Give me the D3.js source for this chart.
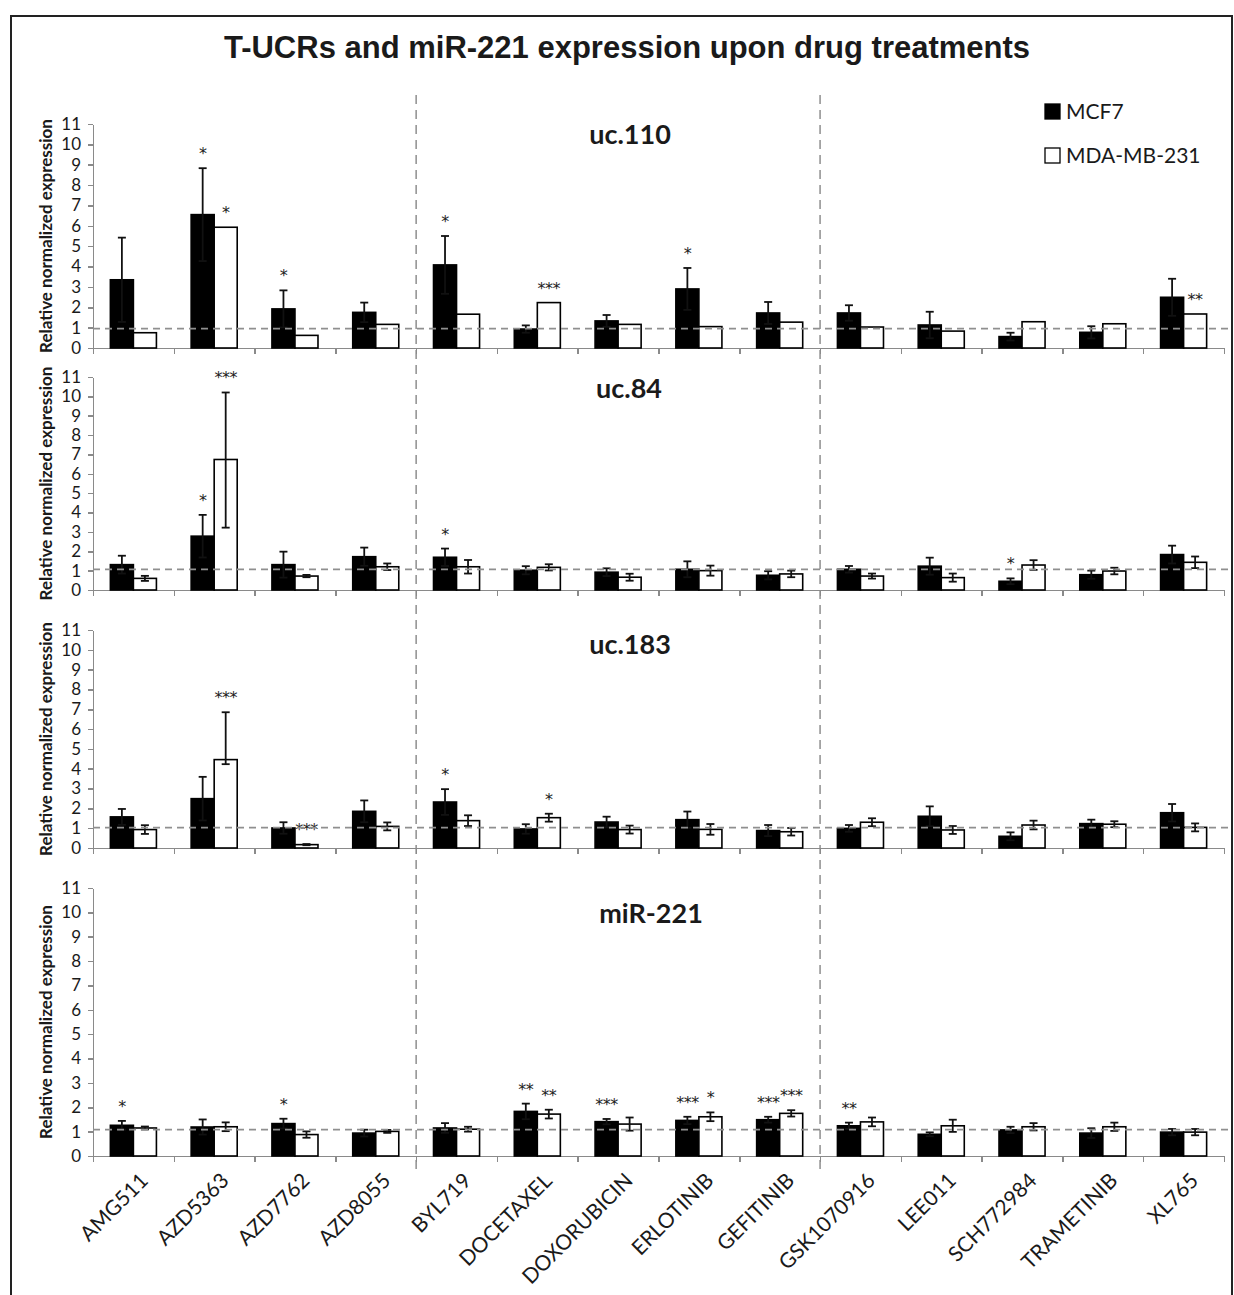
<!DOCTYPE html>
<html>
<head>
<meta charset="utf-8">
<script src="https://cdn.jsdelivr.net/npm/d3@7"></script>
<style>
  body { margin: 0; background: #fff; }
  svg text { font-family: Lato, "Open Sans", sans-serif; fill: #1a1a1a; }
  .axis path, .axis line { stroke: #8a8a8a; stroke-width: 1.5; shape-rendering: crispEdges; }
  .axis text { font-size: 17px; fill: #1a1a1a; }
  .ref-line, .sep-line { stroke: #8f8f8f; stroke-width: 1.8; stroke-dasharray: 7 5; fill: none; }
  .sep-line { stroke-width: 1.5; stroke-dasharray: 9 6; }
  .err line { stroke: #111; stroke-width: 1.8; }
  .sig { font-family: "DejaVu Sans", sans-serif !important; font-size: 16px; text-anchor: middle; letter-spacing: -0.5px; fill: #222 !important; }
</style>
</head>
<body>
<div id="chart"></div>
<script>
// Categories, series, ticks
var categories = ["AMG511", "AZD5363", "AZD7762", "AZD8055", "BYL719", "DOCETAXEL",
  "DOXORUBICIN", "ERLOTINIB", "GEFITINIB", "GSK1070916", "LEE011", "SCH772984",
  "TRAMETINIB", "XL765"];
var seriesNames = ["MCF7", "MDA-MB-231"];
var panelNames = ["uc.110", "uc.84", "uc.183", "miR-221"];
var yTicks = [0, 1, 2, 3, 4, 5, 6, 7, 8, 9, 10, 11];
var refValues = [0.95, 1.07, 1.03, 1.08];

// uc.110 (errors: number = symmetric, [down, up] otherwise)
var uc110MCF7 = [3.35, 6.55, 1.92, 1.75, 4.08, 0.93, 1.33, 2.9, 1.72, 1.72, 1.13, 0.56, 0.77, 2.49];
var uc110MCF7Err = [2.07, 2.28, 0.91, 0.48, 1.42, 0.18, 0.29, 1.03, 0.54, 0.38, 0.65, 0.19, 0.3, 0.91];
var uc110MDA = [0.75, 5.93, 0.62, 1.16, 1.66, 2.23, 1.16, 1.05, 1.27, 1.03, 0.83, 1.29, 1.19, 1.67];
var uc110MDAErr = [0, 0, 0, 0, 0, 0, 0, 0, 0, 0, 0, 0, 0, 0];
var uc110Sig = [["", ""], ["*", "*"], ["*", ""], ["", ""], ["*", ""], ["", "***"], ["", ""],
  ["*", ""], ["", ""], ["", ""], ["", ""], ["", ""], ["", ""], ["", "**"]];

// uc.84
var uc84MCF7 = [1.31, 2.78, 1.31, 1.72, 1.69, 1.02, 0.92, 1.07, 0.76, 1.07, 1.23, 0.45, 0.79, 1.83];
var uc84MCF7Err = [0.46, 1.1, 0.67, 0.47, 0.45, 0.21, 0.2, 0.41, 0.21, 0.17, 0.44, 0.15, 0.21, 0.46];
var uc84MDA = [0.6, 6.74, 0.72, 1.2, 1.2, 1.17, 0.66, 1.0, 0.83, 0.72, 0.64, 1.29, 0.98, 1.43];
var uc84MDAErr = [0.13, [3.52, 3.46], 0.06, 0.17, 0.35, 0.16, 0.18, 0.26, 0.17, 0.13, 0.21, 0.25, 0.17, 0.3];
var uc84Sig = [["", ""], ["*", "***"], ["", ""], ["", ""], ["*", ""], ["", ""], ["", ""],
  ["", ""], ["", ""], ["", ""], ["", ""], ["*", ""], ["", ""], ["", ""]];

// uc.183
var uc183MCF7 = [1.57, 2.49, 1.01, 1.85, 2.32, 0.96, 1.31, 1.43, 0.88, 0.99, 1.6, 0.59, 1.23, 1.78];
var uc183MCF7Err = [0.4, 1.1, 0.29, 0.55, 0.65, 0.24, 0.27, 0.41, 0.28, 0.17, 0.5, 0.2, 0.2, 0.44];
var uc183MDA = [0.93, 4.46, 0.17, 1.09, 1.38, 1.53, 0.93, 0.94, 0.82, 1.3, 0.91, 1.16, 1.2, 1.04];
var uc183MDAErr = [0.22, [0.23, 2.39], 0.03, 0.2, 0.27, 0.2, 0.2, 0.27, 0.19, 0.2, 0.2, 0.22, 0.15, 0.2];
var uc183Sig = [["", ""], ["", "***"], ["", "***"], ["", ""], ["*", ""], ["", "*"], ["", ""],
  ["", ""], ["", ""], ["", ""], ["", ""], ["", ""], ["", ""], ["", ""]];

// miR-221
var mir221MCF7 = [1.26, 1.19, 1.33, 0.94, 1.15, 1.83, 1.41, 1.46, 1.49, 1.24, 0.89, 1.07, 0.94, 0.98];
var mir221MCF7Err = [0.18, 0.31, 0.2, 0.14, 0.2, 0.32, 0.11, 0.15, 0.12, 0.13, 0.08, 0.13, 0.2, 0.13];
var mir221MDA = [1.15, 1.2, 0.88, 1.01, 1.1, 1.72, 1.31, 1.61, 1.75, 1.4, 1.24, 1.2, 1.2, 0.98];
var mir221MDAErr = [0.06, 0.18, 0.13, 0.06, 0.1, 0.18, 0.27, 0.18, 0.13, 0.18, 0.25, 0.15, 0.17, 0.13];
var mir221Sig = [["*", ""], ["", ""], ["*", ""], ["", ""], ["", ""], ["**", "**"], ["***", ""],
  ["***", "*"], ["***", "***"], ["**", ""], ["", ""], ["", ""], ["", ""], ["", ""]];

var panelValues = [
  [uc110MCF7, uc110MDA], [uc84MCF7, uc84MDA], [uc183MCF7, uc183MDA], [mir221MCF7, mir221MDA]
];
var panelErrors = [
  [uc110MCF7Err, uc110MDAErr], [uc84MCF7Err, uc84MDAErr], [uc183MCF7Err, uc183MDAErr], [mir221MCF7Err, mir221MDAErr]
];
var panelSig = [uc110Sig, uc84Sig, uc183Sig, mir221Sig];

// Layout
var width = 1234;
var height = 1295;
var plotLeft = 93;
var plotRight = 1224;
var panelTop = [124, 377, 630, 888];
var panelBottom = [348, 590, 848, 1156];
var panelTitleX = [630, 629, 630, 651];
var panelTitleY = [144, 398, 654, 923];
var fillColors = ["#000", "#fff"];

var render = function() {
  var containerElement = d3.select("#chart");
  containerElement.html("");

  var svg = containerElement.append("svg")
    .attr("width", width)
    .attr("height", height);

  // Frame
  svg.append("rect")
    .attr("x", 11).attr("y", 16)
    .attr("width", 1221).attr("height", 1300)
    .attr("fill", "none").attr("stroke", "#222").attr("stroke-width", 2);

  svg.append("text")
    .attr("x", 627).attr("y", 58)
    .attr("text-anchor", "middle")
    .style("font-family", "'Liberation Sans', Arial, sans-serif")
    .style("font-weight", "bold")
    .style("font-size", "31px")
    .text("T-UCRs and miR-221 expression upon drug treatments");

  var xScale = d3.scaleBand()
    .domain(categories)
    .range([plotLeft, plotRight])
    .paddingInner(0.43)
    .paddingOuter(0.215);

  var xSub = d3.scaleBand()
    .domain([0, 1])
    .range([0, xScale.bandwidth()]);

  var xEdge = d3.scaleLinear()
    .domain([0, categories.length])
    .range([plotLeft, plotRight]);

  // Group separators
  [4, 9].forEach(function(k) {
    svg.append("line")
      .attr("class", "sep-line")
      .attr("x1", xEdge(k)).attr("x2", xEdge(k))
      .attr("y1", 95).attr("y2", 1170);
  });

  panelNames.forEach(function(name, p) {
    var yScale = d3.scaleLinear()
      .domain([0, 11])
      .range([panelBottom[p], panelTop[p]]);

    var g = svg.append("g").attr("class", "panel");

    // y axis
    g.append("g")
      .attr("class", "axis y")
      .attr("transform", "translate(" + plotLeft + ",0)")
      .call(d3.axisLeft(yScale).tickValues(yTicks).tickSize(5).tickSizeOuter(0).tickPadding(7));

    // x axis (category boundaries)
    g.append("g")
      .attr("class", "axis x")
      .attr("transform", "translate(0," + panelBottom[p] + ")")
      .call(d3.axisBottom(xEdge).tickValues(d3.range(categories.length + 1)).tickSize(6).tickSizeOuter(0).tickFormat(""));

    g.append("text")
      .attr("transform", "translate(52," + (panelTop[p] + panelBottom[p]) / 2 + ") rotate(-90)")
      .attr("text-anchor", "middle")
      .style("font-weight", "bold")
      .style("font-size", "17px")
      .text("Relative normalized expression");

    g.append("text")
      .attr("x", panelTitleX[p]).attr("y", panelTitleY[p])
      .attr("text-anchor", "middle")
      .style("font-weight", "bold")
      .style("font-size", "27px")
      .text(name);

    // bars
    panelValues[p].forEach(function(values, s) {
      var errs = panelErrors[p][s];
      var bars = categories.map(function(c, i) {
        var e = errs[i];
        var down = Array.isArray(e) ? e[0] : e;
        var up = Array.isArray(e) ? e[1] : e;
        return { cat: c, value: values[i], down: down, up: up, sig: panelSig[p][i][s] };
      });

      var xOf = function(d) { return xScale(d.cat) + xSub(s); };
      var cx = function(d) { return xOf(d) + xSub.bandwidth() / 2; };

      g.append("g")
        .selectAll("rect")
        .data(bars)
        .enter()
        .append("rect")
        .attr("x", xOf)
        .attr("y", function(d) { return yScale(d.value); })
        .attr("width", xSub.bandwidth())
        .attr("height", function(d) { return yScale(0) - yScale(d.value); })
        .attr("fill", fillColors[s])
        .attr("stroke", "#000")
        .attr("stroke-width", 1.6);

      var errG = g.append("g").attr("class", "err")
        .selectAll("g")
        .data(bars.filter(function(d) { return d.up > 0; }))
        .enter()
        .append("g");

      errG.append("line")
        .attr("x1", cx).attr("x2", cx)
        .attr("y1", function(d) { return yScale(Math.max(0, d.value - d.down)); })
        .attr("y2", function(d) { return yScale(d.value + d.up); });
      errG.append("line")
        .attr("x1", function(d) { return cx(d) - 4; })
        .attr("x2", function(d) { return cx(d) + 4; })
        .attr("y1", function(d) { return yScale(d.value + d.up); })
        .attr("y2", function(d) { return yScale(d.value + d.up); });
      errG.append("line")
        .attr("x1", function(d) { return cx(d) - 4; })
        .attr("x2", function(d) { return cx(d) + 4; })
        .attr("y1", function(d) { return yScale(Math.max(0, d.value - d.down)); })
        .attr("y2", function(d) { return yScale(Math.max(0, d.value - d.down)); });

      g.append("g")
        .selectAll("text")
        .data(bars.filter(function(d) { return d.sig; }))
        .enter()
        .append("text")
        .attr("class", "sig")
        .attr("x", cx)
        .attr("y", function(d) { return yScale(d.value + d.up) - 9; })
        .text(function(d) { return d.sig; });
    });

    // reference line at baseline expression
    g.append("line")
      .attr("class", "ref-line")
      .attr("x1", plotLeft).attr("x2", 1232)
      .attr("y1", yScale(refValues[p])).attr("y2", yScale(refValues[p]));

    // category labels under the last panel
    if (p === panelNames.length - 1) {
      g.append("g")
        .selectAll("text")
        .data(categories)
        .enter()
        .append("text")
        .attr("transform", function(d) {
          var x = xScale(d) + xScale.bandwidth() / 2 + 16;
          return "translate(" + x + "," + (panelBottom[p] + 26) + ") rotate(-45)";
        })
        .attr("text-anchor", "end")
        .style("font-size", "21px")
        .text(function(d) { return d; });
    }
  });

  // Legend
  var legend = svg.append("g").attr("class", "legend");
  seriesNames.forEach(function(name, s) {
    var ly = 119 + s * 44;
    legend.append("rect")
      .attr("x", 1045).attr("y", ly - 15)
      .attr("width", 15).attr("height", 15)
      .attr("fill", fillColors[s])
      .attr("stroke", "#000").attr("stroke-width", 1.3);
    legend.append("text")
      .attr("x", 1066).attr("y", ly)
      .style("font-size", "21px")
      .text(name);
  });
};

window.onload = render;
</script>
</body>
</html>
